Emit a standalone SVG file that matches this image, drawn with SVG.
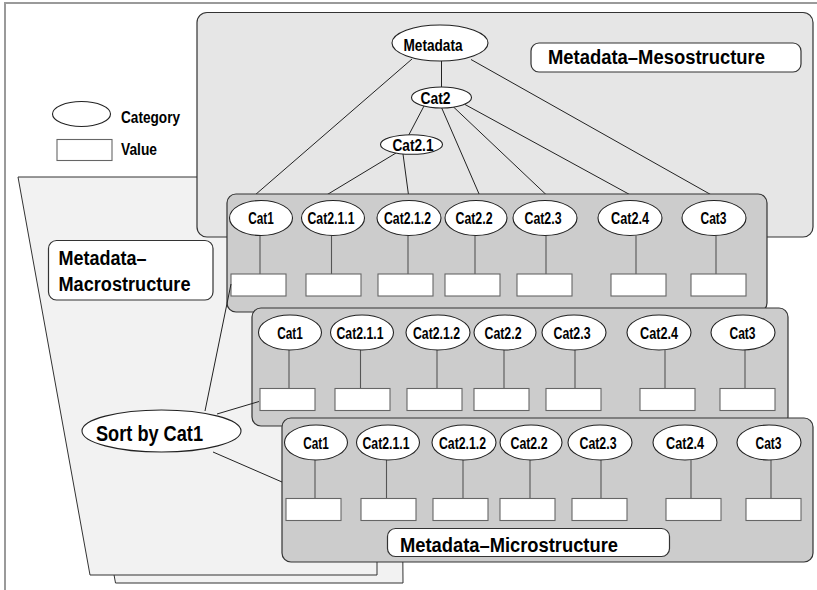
<svg xmlns="http://www.w3.org/2000/svg" width="817" height="590" viewBox="0 0 817 590">
  <style>
    text { font-family: "Liberation Sans", Arial, Helvetica, sans-serif; font-weight: bold; fill: #000; }
    .frame { fill: none; stroke: #9a9a9a; stroke-width: 2; }
    .sheet { fill: #f2f2f2; stroke: #333; stroke-width: 1; }
    .meso { fill: #e6e6e6; stroke: #333; stroke-width: 1.2; }
    .panel { fill: #cccccc; stroke: #333; stroke-width: 1.2; }
    .label { fill: #fff; stroke: #333; stroke-width: 1.2; }
    .cat { fill: #fff; stroke: #222; stroke-width: 1.1; }
    .val { fill: #fff; stroke: #666; stroke-width: 1.1; }
    .edge { fill: none; stroke: #222; stroke-width: 1; }
    .stem { fill: none; stroke: #555; stroke-width: 1.1; }
    .node { font-size: 16px; text-anchor: middle; }
    .big { font-size: 20px; }
    .leg { font-size: 17px; }
  </style>

  <!-- page frame -->
  <path class="frame" d="M5,600 V3 H830"/>

  <!-- stacked sheets of the macrostructure -->
  <g id="sheets">
    <polygon class="sheet" points="43.5,185 400,185 403,583 115.5,583"/>
    <polygon class="sheet" points="18,177 377,177 377,575 90,575"/>
  </g>

  <!-- legend -->
  <g id="legend">
    <ellipse class="cat" cx="81.5" cy="114" rx="29" ry="12.5"/>
    <text class="leg" x="121" y="123" textLength="59" lengthAdjust="spacingAndGlyphs">Category</text>
    <rect class="val" x="57" y="139.5" width="55" height="21"/>
    <text class="leg" x="121" y="155" textLength="36" lengthAdjust="spacingAndGlyphs">Value</text>
  </g>

  <g id="macro-label">
    <rect class="label" x="48.5" y="240.5" width="164.5" height="59.5" rx="8"/>
    <text class="big" x="58.5" y="265" textLength="88" lengthAdjust="spacingAndGlyphs">Metadata–</text>
    <text class="big" x="58.5" y="290.5" textLength="132" lengthAdjust="spacingAndGlyphs">Macrostructure</text>
  </g>

  <!-- mesostructure panel -->
  <rect id="meso-panel" class="meso" x="197" y="12.5" width="616" height="224.5" rx="10"/>

  <g id="tree-edges">
    <line class="edge" x1="412" y1="59" x2="255" y2="195"/>
    <line class="edge" x1="441.5" y1="61" x2="441.5" y2="87.5"/>
    <line class="edge" x1="471" y1="59.5" x2="711.5" y2="195"/>
    <line class="edge" x1="424" y1="106" x2="408.5" y2="135.5"/>
    <line class="edge" x1="396" y1="153" x2="326.5" y2="195"/>
    <line class="edge" x1="403" y1="154" x2="408.5" y2="195"/>
    <line class="edge" x1="441.5" y1="107.5" x2="479.5" y2="195"/>
    <line class="edge" x1="453" y1="106.5" x2="546.5" y2="195"/>
    <line class="edge" x1="465" y1="104.5" x2="630.5" y2="195"/>
  </g>

  <g id="meso-label">
    <rect class="label" x="531" y="43" width="270" height="29" rx="8"/>
    <text class="big" x="548" y="64" textLength="217" lengthAdjust="spacingAndGlyphs">Metadata–Mesostructure</text>
  </g>

  <g id="metadata">
    <ellipse class="cat" cx="440" cy="43" rx="48" ry="18"/>
    <text class="node" x="433" y="51" textLength="59" lengthAdjust="spacingAndGlyphs">Metadata</text>
  </g>
  <g id="cat2">
    <ellipse class="cat" cx="441.5" cy="97.5" rx="30" ry="10.5"/>
    <text class="node" x="435.5" y="103.5" textLength="30" lengthAdjust="spacingAndGlyphs">Cat2</text>
  </g>
  <g id="cat2-1">
    <ellipse class="cat" cx="411.5" cy="144.5" rx="31" ry="9.8"/>
    <text class="node" x="413" y="150.5" textLength="41" lengthAdjust="spacingAndGlyphs">Cat2.1</text>
  </g>

  <!-- record panels: category row over value row -->
  <defs>
    <g id="record">
      <g class="stems">
        <line class="stem" x1="260" y1="235.5" x2="260" y2="274"/>
        <line class="stem" x1="331.5" y1="235.5" x2="331.5" y2="274"/>
        <line class="stem" x1="408" y1="235.5" x2="408" y2="274"/>
        <line class="stem" x1="475" y1="235.5" x2="475" y2="274"/>
        <line class="stem" x1="546" y1="235.5" x2="546" y2="274"/>
        <line class="stem" x1="636" y1="235.5" x2="636" y2="274"/>
        <line class="stem" x1="716" y1="235.5" x2="716" y2="274"/>
      </g>
      <g class="cats">
        <ellipse class="cat" cx="261" cy="218" rx="31.5" ry="17.5"/>
        <text class="node" x="261" y="224" textLength="25.5" lengthAdjust="spacingAndGlyphs">Cat1</text>
        <ellipse class="cat" cx="333" cy="218" rx="31.5" ry="17.5"/>
        <text class="node" x="331" y="224" textLength="47" lengthAdjust="spacingAndGlyphs">Cat2.1.1</text>
        <ellipse class="cat" cx="409" cy="218" rx="32" ry="17.5"/>
        <text class="node" x="407.5" y="224" textLength="47" lengthAdjust="spacingAndGlyphs">Cat2.1.2</text>
        <ellipse class="cat" cx="476" cy="218" rx="31" ry="17.5"/>
        <text class="node" x="474" y="224" textLength="37" lengthAdjust="spacingAndGlyphs">Cat2.2</text>
        <ellipse class="cat" cx="545" cy="218" rx="32" ry="17.5"/>
        <text class="node" x="543" y="224" textLength="37" lengthAdjust="spacingAndGlyphs">Cat2.3</text>
        <ellipse class="cat" cx="630" cy="218" rx="32" ry="17.5"/>
        <text class="node" x="630" y="224" textLength="38" lengthAdjust="spacingAndGlyphs">Cat2.4</text>
        <ellipse class="cat" cx="714" cy="218" rx="32" ry="17.5"/>
        <text class="node" x="713.5" y="224" textLength="26" lengthAdjust="spacingAndGlyphs">Cat3</text>
      </g>
      <g class="values">
        <rect class="val" x="231" y="274" width="55" height="22"/>
        <rect class="val" x="306" y="274" width="55" height="22"/>
        <rect class="val" x="378" y="274" width="55" height="22"/>
        <rect class="val" x="445" y="274" width="55" height="22"/>
        <rect class="val" x="517" y="274" width="55" height="22"/>
        <rect class="val" x="611" y="274" width="55" height="22"/>
        <rect class="val" x="691" y="274" width="55" height="22"/>
      </g>
    </g>
  </defs>

  <g id="record-1">
    <rect class="panel" x="227" y="194" width="540" height="118" rx="9"/>
    <use href="#record"/>
  </g>
  <g id="record-2">
    <rect class="panel" x="252" y="308" width="536" height="118" rx="9"/>
    <use href="#record" transform="translate(29,114.5)"/>
  </g>
  <g id="record-3">
    <rect class="panel" x="282" y="418" width="531" height="144" rx="9"/>
    <use href="#record" transform="translate(55,224.5)"/>
    <rect class="label" x="387.5" y="528.5" width="282" height="28" rx="8"/>
    <text class="big" x="400" y="552" textLength="218" lengthAdjust="spacingAndGlyphs">Metadata–Microstructure</text>
  </g>

  <g id="sort-edges">
    <line class="edge" x1="205" y1="411" x2="231" y2="284"/>
    <line class="edge" x1="217" y1="414" x2="259" y2="401.5"/>
    <line class="edge" x1="213" y1="452" x2="282" y2="482"/>
  </g>

  <g id="sort">
    <ellipse class="cat" cx="161.5" cy="431" rx="79.5" ry="21"/>
    <text x="96" y="440.5" font-size="22" textLength="107" lengthAdjust="spacingAndGlyphs">Sort by Cat1</text>
  </g>
</svg>
